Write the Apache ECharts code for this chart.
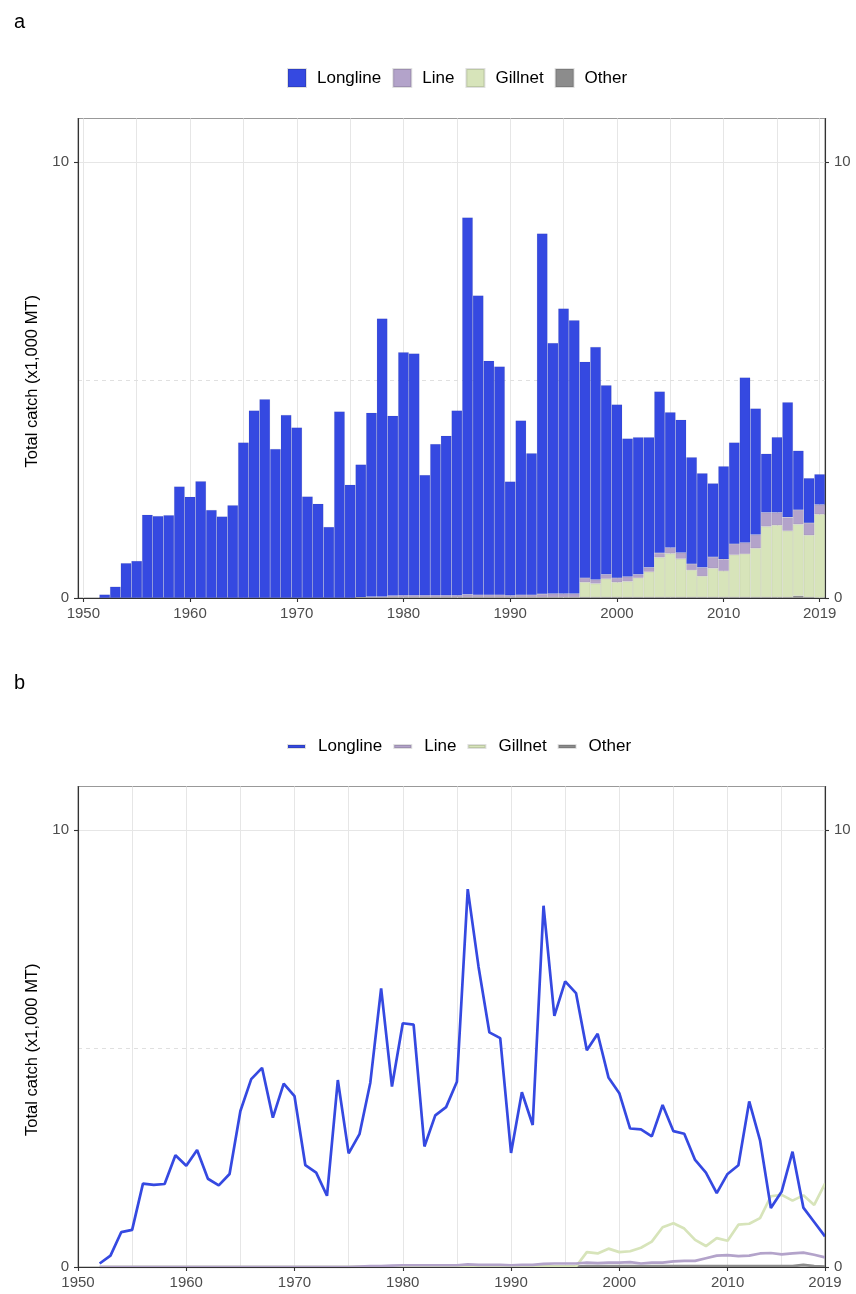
<!DOCTYPE html>
<html><head><meta charset="utf-8">
<script src="https://cdn.jsdelivr.net/npm/echarts@6/dist/echarts.min.js"></script>
<style>html,body{margin:0;padding:0;background:#fff}#c{width:856px;height:1294px}</style>
</head><body><div id="c"></div>
<script>
// ---- data (x1,000 MT) ----
const years = [
  1952,1953,1954,1955,1956,1957,1958,1959,
  1960,1961,1962,1963,1964,1965,1966,1967,1968,1969,
  1970,1971,1972,1973,1974,1975,1976,1977,1978,1979,
  1980,1981,1982,1983,1984,1985,1986,1987,1988,1989,
  1990,1991,1992,1993,1994,1995,1996,1997,1998,1999,
  2000,2001,2002,2003,2004,2005,2006,2007,2008,2009,
  2010,2011,2012,2013,2014,2015,2016,2017,2018,2019
];
const longline = [
  0.08,0.26,0.80,0.85,1.91,1.88,1.90,2.56,
  2.32,2.68,2.02,1.87,2.13,3.57,4.30,4.56,3.42,4.20,
  3.91,2.33,2.16,1.63,4.28,2.60,3.04,4.22,6.38,4.13,
  5.58,5.55,2.76,3.47,3.66,4.24,8.65,6.87,5.37,5.24,
  2.61,4.00,3.25,8.27,5.75,6.54,6.27,4.96,5.34,4.34,
  3.98,3.17,3.15,2.99,3.71,3.11,3.05,2.45,2.16,1.69,
  2.13,2.33,3.79,2.90,1.35,1.73,2.64,1.36,1.03,0.70
];
const lineGear = [
  0,0,0,0,0,0,0,0,
  0,0,0,0,0,0,0,0,0,0,
  0,0,0,0,0,0,0.01,0.02,0.02,0.03,
  0.04,0.04,0.04,0.04,0.04,0.04,0.06,0.05,0.05,0.05,
  0.04,0.05,0.05,0.07,0.08,0.08,0.08,0.10,0.09,0.10,
  0.10,0.11,0.08,0.10,0.10,0.13,0.14,0.14,0.20,0.26,
  0.27,0.25,0.26,0.31,0.32,0.29,0.31,0.33,0.28,0.22
];
const gillnet = [
  0,0,0,0,0,0,0,0,
  0,0,0,0,0,0,0,0,0,0,
  0,0,0,0,0,0,0.01,0.01,0.01,0.01,
  0.01,0.01,0.01,0.01,0.01,0.01,0.01,0.01,0.01,0.01,
  0.01,0.01,0.01,0.01,0.01,0.01,0.01,0.34,0.31,0.42,
  0.34,0.36,0.44,0.58,0.91,1.00,0.88,0.62,0.48,0.66,
  0.60,0.97,0.99,1.12,1.62,1.65,1.52,1.64,1.42,1.91
];
const other = [
  0,0,0,0,0,0,0,0,
  0,0,0,0,0,0,0,0,0,0,
  0,0,0,0,0,0,0,0,0,0.01,
  0.01,0.01,0.01,0.01,0.01,0.01,0.01,0.01,0.01,0.01,
  0.01,0.01,0.01,0.01,0.01,0.01,0.01,0.02,0.02,0.02,
  0.02,0.02,0.02,0.02,0.02,0.02,0.02,0.02,0.02,0.02,
  0.02,0.02,0.02,0.02,0.02,0.02,0.02,0.05,0.02,0.01
];
const seriesNames = ['Longline','Line','Gillnet','Other'];
const leadingYears = [1950, 1951];           // empty slots at the start of panel a's axis
const xTickLabels = [1950,1960,1970,1980,1990,2000,2010,2019];
const xGridYears = [1950,1955,1960,1965,1970,1975,1980,1985,1990,1995,2000,2005,2010,2015,2019];
const yTickLabels = [0,10];
const yTitle = 'Total catch (x1,000 MT)';

// ---- styling ----
const colors = {Longline:'#3549E1', Line:'#B3A3CA', Gillnet:'#D7E4BA', Other:'#8C8C8C'};
const values = {Longline:longline, Line:lineGear, Gillnet:gillnet, Other:other};
const FONT = "'Liberation Sans', Arial, sans-serif";
const AX = '#333333', LAB = '#4D4D4D', GRIDC = '#E6E6E6';

const catsA = leadingYears.concat(years).map(String);
function pairs(v){ return years.map((y,i)=>[y, v[i]]); }
function catPairs(v){ return years.map((y,i)=>[String(y), v[i]]); }
const showTick = (idx, val) => xTickLabels.indexOf(+val) >= 0;

const xAxisA = {gridIndex:0, type:'category', data:catsA, boundaryGap:true, z:20,
  axisLine:{show:true, onZero:false, lineStyle:{color:AX, width:1.1}},
  axisTick:{show:true, alignWithLabel:true, interval:showTick, length:4, lineStyle:{color:AX, width:1.1}},
  axisLabel:{interval:showTick, color:LAB, fontSize:15, margin:8, fontFamily:FONT},
  splitLine:{show:false}};
const xAxisB = {gridIndex:1, type:'value', min:1950, max:2019, z:20,
  axisLine:{show:true, onZero:false, lineStyle:{color:AX, width:1.1}},
  axisTick:{show:true, customValues:xTickLabels, length:4, lineStyle:{color:AX, width:1.1}},
  axisLabel:{customValues:xTickLabels, formatter:v=>String(v), color:LAB, fontSize:15, margin:8, fontFamily:FONT},
  splitLine:{show:false}};

function yAx(gi, pos, withName){
  const a = {gridIndex:gi, type:'value', min:0, max:11, position:pos, z:20,
    axisLine:{show:true, onZero:false, lineStyle:{color:AX, width:1.1}},
    axisTick:{show:true, customValues:yTickLabels, length:4, lineStyle:{color:AX, width:1.1}},
    axisLabel:{customValues:yTickLabels, formatter:v=>String(v), color:LAB, fontSize:15, margin:9, fontFamily:FONT},
    splitLine:{show:false}};
  if (withName){
    a.name = yTitle; a.nameLocation = 'middle'; a.nameGap = 34; a.nameRotate = 90;
    a.nameTextStyle = {fontSize:16.5, color:'#000', fontFamily:FONT, padding:[0,46,0,0]};
  }
  return a;
}
function gridLines(xi, yi, toKey){
  return {type:'line', name:'_grid'+xi, xAxisIndex:xi, yAxisIndex:yi, data:[], silent:true, z:0,
    markLine:{silent:true, symbol:'none', animation:false, z:0, label:{show:false},
      lineStyle:{color:GRIDC, width:1, type:'solid'},
      data: xGridYears.map(v=>({xAxis:toKey(v)})).concat([{yAxis:10},{yAxis:5, lineStyle:{type:[4,4], color:'#E0E0E0'}}])}};
}

const series = [gridLines(0,0,String), gridLines(1,2,v=>v)];
['Other','Gillnet','Line','Longline'].forEach(n=>{
  series.push({type:'bar', name:n, xAxisIndex:0, yAxisIndex:0, stack:'a', barCategoryGap:'0%', z:10,
    data:catPairs(values[n]),
    itemStyle:{color:colors[n], borderColor:'rgba(0,0,0,0.12)', borderWidth:0.5}});
});
['Other','Gillnet','Line','Longline'].forEach(n=>{
  series.push({type:'line', name:n, xAxisIndex:1, yAxisIndex:2, z:10, showSymbol:false,
    data:pairs(values[n]), lineStyle:{color:colors[n], width:2.7}, itemStyle:{color:colors[n]}});
});

const option = {
  animation:false,
  textStyle:{fontFamily:FONT},
  title:[
    {text:'a', left:9, top:7, textStyle:{fontSize:20, fontWeight:'normal', color:'#000', fontFamily:FONT}},
    {text:'b', left:9, top:668, textStyle:{fontSize:20, fontWeight:'normal', color:'#000', fontFamily:FONT}}
  ],
  legend:[
    {data:seriesNames, left:287, top:68, padding:0, icon:'rect', itemWidth:18, itemHeight:18, itemGap:11, selectedMode:false,
     textStyle:{fontSize:17, color:'#000', fontFamily:FONT, padding:[0,0,0,6]}},
    {data:seriesNames, left:287, top:738, padding:0, icon:'rect', itemWidth:17, itemHeight:3, itemGap:11, selectedMode:false,
     textStyle:{fontSize:17, color:'#000', fontFamily:FONT, padding:[0,0,0,8]}}
  ],
  grid:[
    {left:78, width:747, top:118.5, height:479.5, show:true, borderColor:'#999', borderWidth:1.2, backgroundColor:'#fff'},
    {left:78, width:747, top:786.5, height:480.5, show:true, borderColor:'#999', borderWidth:1.2, backgroundColor:'#fff'}
  ],
  xAxis:[xAxisA, xAxisB],
  yAxis:[yAx(0,'left',true), yAx(0,'right',false), yAx(1,'left',true), yAx(1,'right',false)],
  series:series
};
const chart = echarts.init(document.getElementById('c'), null, {renderer:'canvas'});
chart.setOption(option);
</script></body></html>
